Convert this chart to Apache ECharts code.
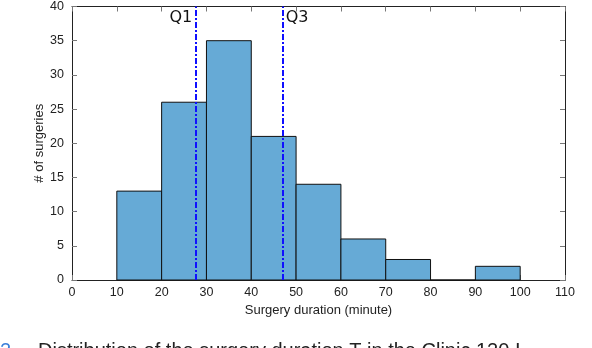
<!DOCTYPE html>
<html>
<head>
<meta charset="utf-8">
<script src="https://cdn.jsdelivr.net/npm/echarts@6/dist/echarts.min.js"></script>
<style>
  html, body { margin: 0; padding: 0; background: #fff; }
  #chart { width: 592px; height: 348px; }
</style>
</head>
<body>
<div id="chart"></div>
<script>
  // bin edges and counts
  const binStart = [10, 20, 30, 40, 50, 60, 70, 80, 90];
  const binEnd = [20, 30, 40, 50, 60, 70, 80, 90, 100];
  const counts = [13, 26, 35, 21, 14, 6, 3, 0, 2];
  // quartiles
  const quartileNames = ['Q1', 'Q3'];
  const quartileValues = [27.5, 47];

  const chart = echarts.init(document.getElementById('chart'));
  const font = 'Liberation Sans, Arial, sans-serif';

  const bins = binStart.map((s, i) => [s, binEnd[i], counts[i]]);

  function axisBase() {
    return {
      axisLine: { show: true, onZero: false, lineStyle: { color: '#222', width: 1 } },
      axisTick: { show: true, inside: true, length: 5, lineStyle: { color: '#777' } },
      splitLine: { show: false },
    };
  }

  let option = {
    animation: false,
    grid: { left: 72, right: 27, top: 5, bottom: 68 },
    xAxis: [Object.assign(axisBase(), {
      type: 'value', min: 0, max: 110, interval: 10, position: 'bottom',
      name: 'Surgery duration (minute)',
      nameLocation: 'middle',
      nameGap: 22,
      nameTextStyle: { fontFamily: font, fontSize: 13, color: '#222' },
      axisLabel: { fontFamily: font, fontSize: 12.5, color: '#222', margin: 6 },
    }), Object.assign(axisBase(), {
      type: 'value', min: 0, max: 110, interval: 10, position: 'top',
      axisLabel: { show: false },
    })],
    yAxis: [Object.assign(axisBase(), {
      type: 'value', min: 0, max: 40, interval: 5, position: 'left',
      name: '# of surgeries',
      nameLocation: 'middle',
      nameGap: 26,
      nameMoveOverlap: false,
      nameTextStyle: { fontFamily: font, fontSize: 13, color: '#222' },
      axisLabel: { fontFamily: font, fontSize: 12.5, color: '#222', margin: 8 },
    }), Object.assign(axisBase(), {
      type: 'value', min: 0, max: 40, interval: 5, position: 'right',
      axisLabel: { show: false },
    })],
    series: [{
      type: 'custom',
      data: bins,
      encode: { x: [0, 1], y: 2 },
      renderItem: function (params, api) {
        const p0 = api.coord([api.value(0), 0]);
        const p1 = api.coord([api.value(1), api.value(2)]);
        return {
          type: 'rect',
          shape: { x: p0[0], y: p1[1], width: p1[0] - p0[0], height: p0[1] - p1[1] },
          style: { fill: '#66aad6', stroke: '#111', lineWidth: 1 },
        };
      },
      z: 2,
      markLine: {
        symbol: 'none',
        silent: true,
        z: 5,
        lineStyle: { color: '#1010ff', width: 2, type: [6, 2, 2, 2] },
        data: quartileValues.map((v, i) => ({
          xAxis: v,
          label: {
            show: true,
            formatter: quartileNames[i],
            position: 'end',
            rotate: 0,
            fontFamily: 'DejaVu Sans, sans-serif',
            fontSize: 16,
            color: '#111',
            align: i === 0 ? 'right' : 'left',
            verticalAlign: 'top',
            offset: i === 0 ? [-3, 3] : [3, 3],
            distance: 0,
          },
        })),
      },
    }],
    graphic: [{
      type: 'text',
      left: 0,
      top: 341,
      style: { text: '2', fill: '#3b7fd9', font: '20px ' + font },
    }, {
      type: 'text',
      left: 38,
      top: 341,
      style: {
        text: 'Distribution of the surgery duration T in the Clinic 120 I',
        fill: '#222',
        font: '20px ' + font,
      },
    }],
  };
  chart.setOption(option);
</script>
</body>
</html>
